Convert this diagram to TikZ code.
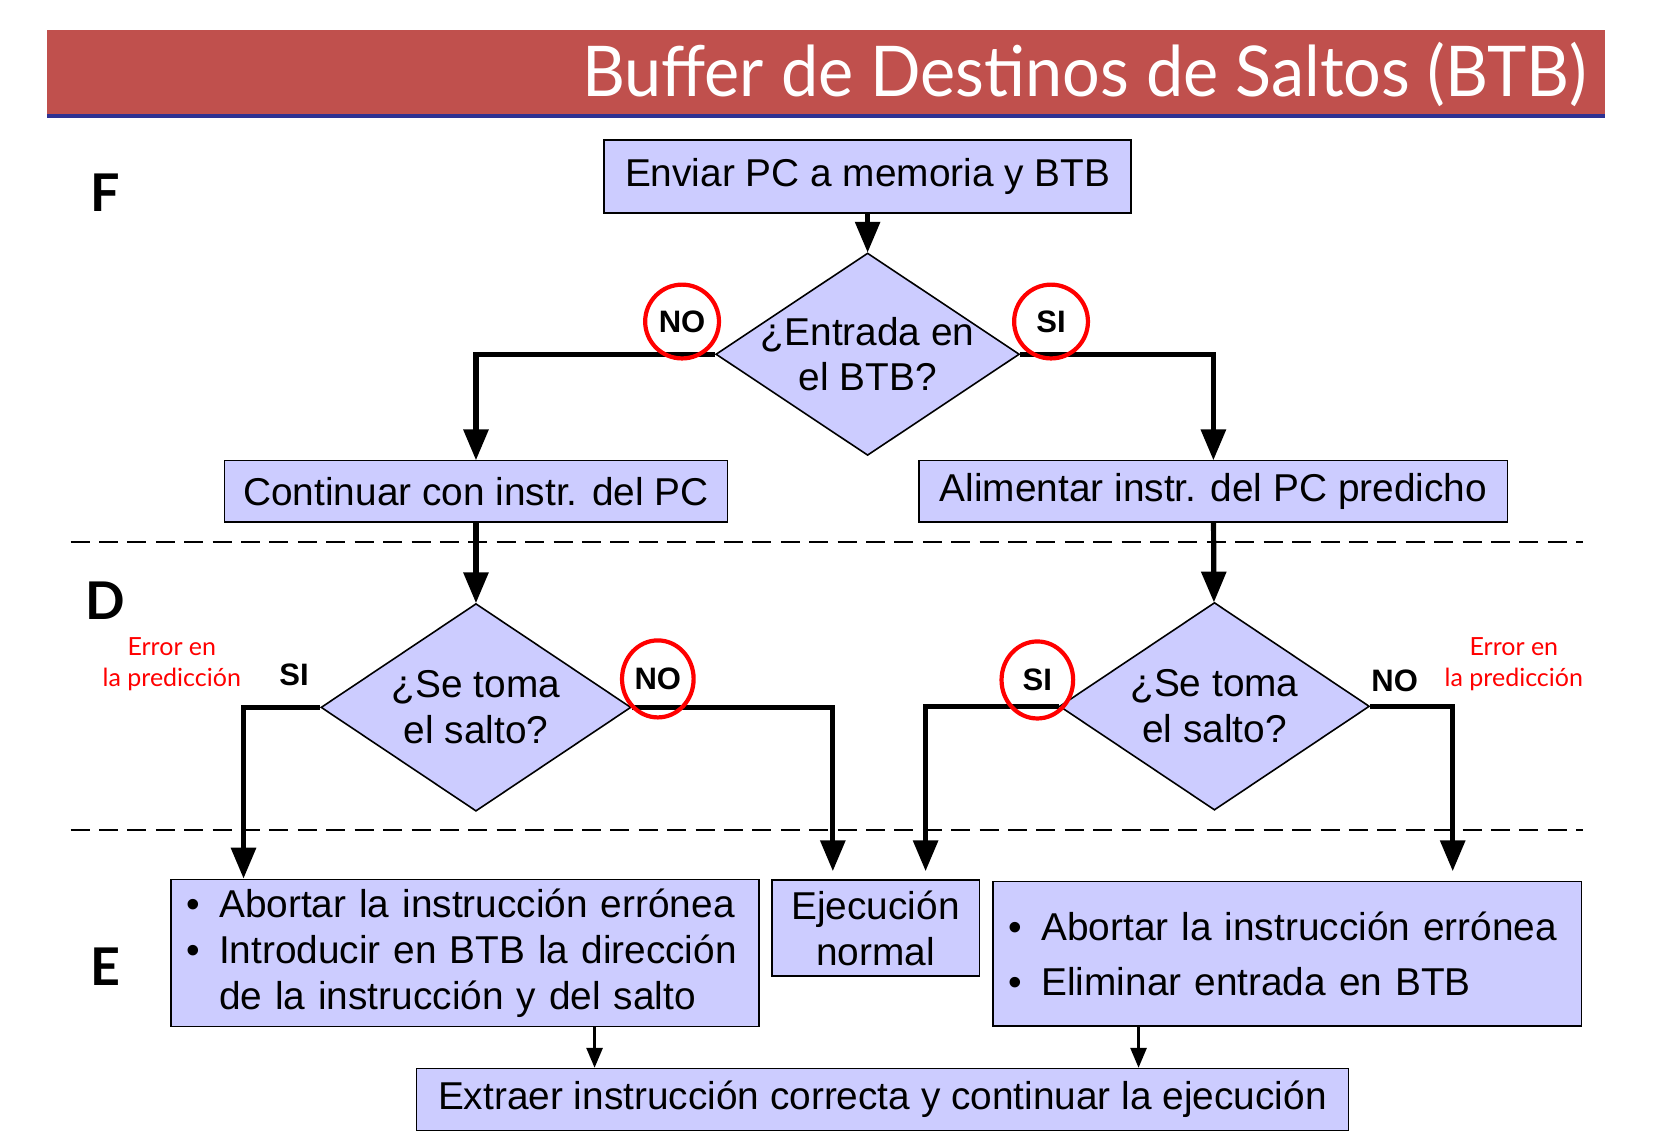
\documentclass[tikz,border=0pt]{standalone}
\usepackage{fontspec}
\setmainfont{Liberation Sans}
\newfontfamily\comicfont{Lato}
\newfontfamily\titlefont[FakeStretch=0.95]{Lato}
\usetikzlibrary{arrows}
\usetikzlibrary{shapes.geometric}
\usepackage{color}

\definecolor{lila}{RGB}{204,204,255}
\definecolor{rojizo}{RGB}{192,80,77}
\definecolor{azulito}{RGB}{46,49,146}

\newcommand{\bala}{\makebox[16.3pt][l]{\textbullet}}
\newcommand{\sinbala}{\hspace*{16.3pt}}

\begin{document}
\begin{tikzpicture}[line join=miter,>=triangle 45,x=0.527pt,y=-0.527pt,
  caja/.style={draw,fill=lila,line width=0.8pt,inner sep=0pt,font=\fontsize{19.4}{22.9}\selectfont},
  rombo/.style={caja,diamond,align=center},
  flecha/.style={->,line width=2.6pt},
  circulo/.style={ellipse,draw=red,line width=2.1pt,inner sep=0pt,font=\fontsize{15.5}{15.5}\selectfont\bfseries},
  sino/.style={font=\fontsize{15.5}{15.5}\selectfont\bfseries},
  errorp/.style={red,align=center,font=\comicfont\fontsize{12.5}{15.5}\selectfont},
  etapa/.style={font=\comicfont\bfseries\fontsize{26}{26}\selectfont}]
\useasboundingbox (0,0) rectangle (1568,1085);

%titulo
\fill[rojizo] (45,28) rectangle (1522,108);
\draw[azulito,line width=1.6pt] (45,110)--(1522,110);
\node[anchor=east,white,font=\titlefont\fontsize{35}{35}\selectfont] (titulo) at (1512,71) {Buffer de Destinos de Saltos (BTB)};

%etapas
\node[etapa] (F) at (100,183) {F};
\node[etapa] (D) at (100,570) {D};
\node[etapa] (E) at (100,917) {E};
\draw[line width=1pt,dash pattern=on 9.5pt off 4.7pt] (67,514)--(1502,514);
\draw[line width=1pt,dash pattern=on 9.5pt off 4.7pt] (67,787)--(1502,787);

%cajas
\node[caja,minimum width=263.5pt,minimum height=36.4pt] (enviar) at (823,167.5) {Enviar PC a memoria y BTB};
\node[rombo,minimum width=151.8pt,minimum height=101.2pt] (btb) at (823,336)
  {\makebox[0pt]{¿Entrada en}\\\makebox[0pt]{el BTB?}};
\node[caja,minimum width=251.4pt,minimum height=30.6pt] (continuar) at (451.5,466) {Continuar con instr. del PC};
\node[caja,minimum width=294.1pt,minimum height=30.6pt] (alimentar) at (1151,466) {Alimentar instr. del PC predicho};
\node[rombo,minimum width=155pt,minimum height=103.8pt] (toma1) at (451.5,671)
  {\makebox[0pt]{¿Se toma}\\\makebox[0pt]{el salto?}};
\node[rombo,minimum width=155pt,minimum height=103.8pt] (toma2) at (1152,670)
  {\makebox[0pt]{¿Se toma}\\\makebox[0pt]{el salto?}};
\node[caja,minimum height=73.3pt,inner xsep=7.9pt,text width=278.3pt,align=left] (abortarA) at (441,904)
  {\bala Abortar la instrucción errónea\\\bala Introducir en BTB la dirección\\\sinbala de la instrucción y del salto};
\node[caja,minimum width=103.8pt,minimum height=48pt,align=center] (ejecucion) at (830.5,880.5) {Ejecución\\normal};
\node[caja,minimum height=72.2pt,inner xsep=7.9pt,text width=278.3pt,align=left,
  font=\fontsize{19.4}{27.4}\selectfont] (abortarB) at (1221,904.5)
  {\bala Abortar la instrucción errónea\\\bala Eliminar entrada en BTB};
\node[caja,minimum width=465.9pt,minimum height=31.1pt] (extraer) at (837,1043) {Extraer instrucción correcta y continuar la ejecución};

%flechas
\coordinate (siA) at (231,833);
\coordinate (noA) at (790,826);
\coordinate (siB) at (878,826);
\coordinate (noB) at (1378,826);
\coordinate (x1) at (564,0);
\coordinate (x2) at (1080,0);
\draw[flecha] (enviar)--(btb);
\draw[flecha] (btb.west) -| (continuar);
\draw[flecha] (btb.east) -| (alimentar);
\draw[flecha] (continuar)--(toma1);
\draw[flecha] (alimentar)--(toma2);
\draw[flecha] (toma1.west) -| (siA);
\draw[flecha] (toma1.east) -| (noA);
\draw[flecha] (toma2.west) -| (siB);
\draw[flecha] (toma2.east) -| (noB);
\draw[->,line width=1.3pt] (abortarA.south -| x1)--(extraer.north -| x1);
\draw[->,line width=1.3pt] (abortarB.south -| x2)--(extraer.north -| x2);

%SI / NO
\node[circulo,minimum width=36.9pt,minimum height=36.9pt] (noBTB) at (647,305) {NO};
\node[circulo,minimum width=36.9pt,minimum height=36.9pt] (siBTB) at (997,305) {SI};
\node[circulo,minimum width=35.8pt,minimum height=38.5pt] (noA1) at (624,644) {NO};
\node[circulo,minimum width=35.8pt,minimum height=38.5pt] (siB1) at (984,645) {SI};
\node[sino] (siA1) at (279,640) {SI};
\node[sino] (noB1) at (1323,646) {NO};
\node[errorp] (errorA) at (163,630) {Error en\\la predicción};
\node[errorp] (errorB) at (1436,630) {Error en\\la predicción};
\end{tikzpicture}
\end{document}
